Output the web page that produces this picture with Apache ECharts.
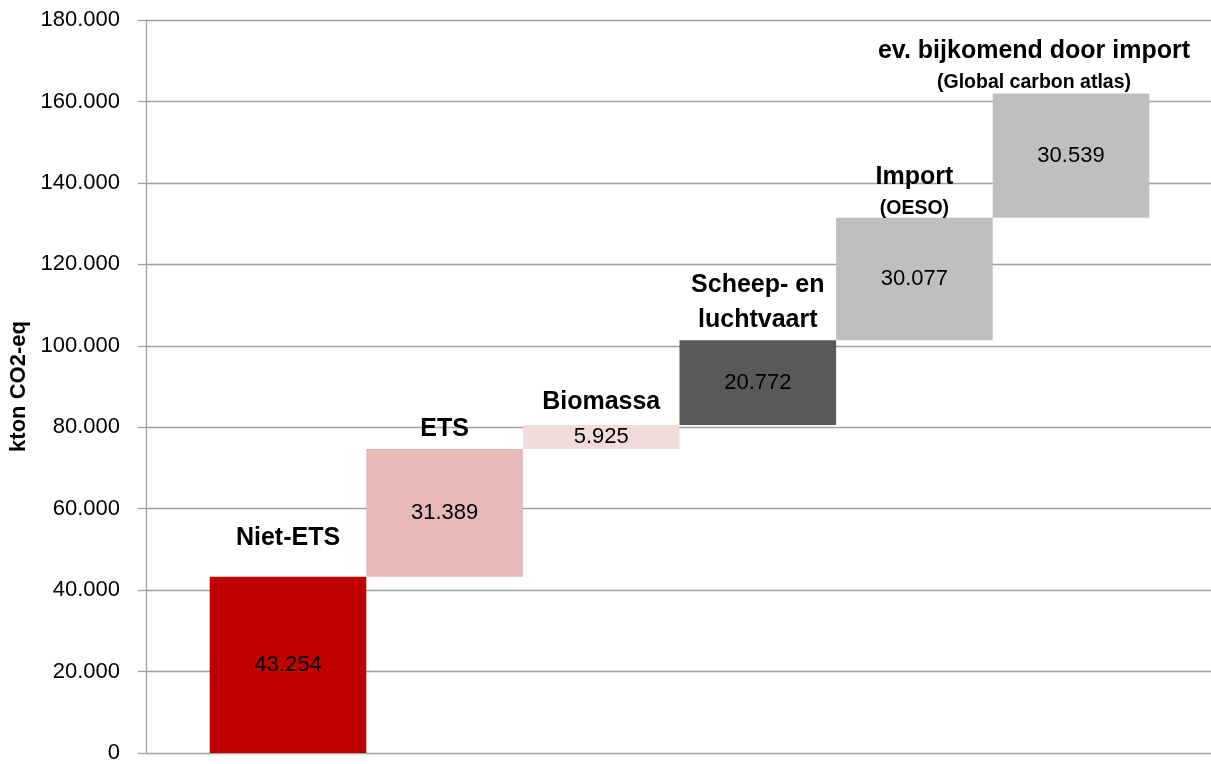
<!DOCTYPE html>
<html>
<head>
<meta charset="utf-8">
<script src="https://cdn.jsdelivr.net/npm/echarts@6/dist/echarts.min.js"></script>
<style>
  html, body { margin: 0; padding: 0; background: #fff; }
  #chart { width: 1211px; height: 764px; }
</style>
</head>
<body>
<div id="chart"></div>
<script>
// data (kton CO2-eq)
const categories = ['Niet-ETS', 'ETS', 'Biomassa', 'Scheep- en\nluchtvaart', 'Import', 'ev. bijkomend door import'];
const subLabels = ['', '', '', '', '(OESO)', '(Global carbon atlas)'];
const values = [43254, 31389, 5925, 20772, 30077, 30539];

// styling per bar
const barColors = ['#c00000', '#e6b9b8', '#f2dcdb', '#595959', '#bfbfbf', '#bfbfbf'];
const labelDist = [21, 2, 5, 3, -5, -3];
const labelShift = [0, 0, 0, 0, 0, -37];

const FONT = '"Liberation Sans", Arial, sans-serif';

function fmt(n) {
    return String(n).replace(/\B(?=(\d{3})+(?!\d))/g, '.');
}

// invisible base for the waterfall
const bases = [];
let run = 0;
values.forEach(v => { bases.push(run); run += v; });

const chart = echarts.init(document.getElementById('chart'));

chart.setOption({
    backgroundColor: '#fff',
    animation: false,
    grid: [
        // grid 0: axis + gridlines
        { left: 146, right: 0, top: 20, bottom: 11, outerBoundsMode: 'none', containLabel: false },
        // grid 1: the bars
        { left: 209.7, right: 61.7, top: 20, bottom: 11, outerBoundsMode: 'none', containLabel: false }
    ],
    xAxis: [
        { gridIndex: 0, type: 'value', show: false, min: 0, max: 1 },
        { gridIndex: 1, type: 'category', data: categories, show: false }
    ],
    yAxis: [
        {
            gridIndex: 0,
            type: 'value',
            min: 0,
            max: 180000,
            interval: 20000,
            name: 'kton CO2-eq',
            nameLocation: 'middle',
            nameRotate: 90,
            nameGap: 114,
            nameTextStyle: { fontFamily: FONT, fontWeight: 'bold', fontSize: 22, color: '#000' },
            axisLine: { show: true, lineStyle: { color: '#a0a0a0', width: 1.3 } },
            axisTick: { show: true, length: 8, lineStyle: { color: '#a0a0a0', width: 1.3 } },
            axisLabel: {
                fontFamily: FONT,
                fontSize: 22,
                color: '#000',
                margin: 26,
                formatter: v => fmt(v)
            },
            splitLine: { show: true, lineStyle: { color: '#a0a0a0', width: 1.3 } }
        },
        { gridIndex: 1, type: 'value', min: 0, max: 180000, show: false }
    ],
    series: [
        {
            name: 'base',
            type: 'bar',
            xAxisIndex: 1,
            yAxisIndex: 1,
            stack: 'wf',
            barCategoryGap: 0,
            itemStyle: { color: 'transparent' },
            data: bases
        },
        {
            name: 'waarde',
            type: 'bar',
            xAxisIndex: 1,
            yAxisIndex: 1,
            stack: 'wf',
            barCategoryGap: 0,
            data: values.map((v, i) => ({ value: v, itemStyle: { color: barColors[i] } })),
            label: {
                show: true,
                position: 'inside',
                fontFamily: FONT,
                fontSize: 22,
                color: '#000',
                formatter: p => fmt(p.value)
            }
        },
        {
            name: 'namen',
            type: 'bar',
            xAxisIndex: 1,
            yAxisIndex: 1,
            stack: 'wf',
            barCategoryGap: 0,
            itemStyle: { color: 'transparent' },
            data: categories.map((c, i) => ({
                value: 0,
                label: { distance: labelDist[i], offset: [labelShift[i], 0] }
            })),
            label: {
                show: true,
                position: 'top',
                formatter: p => {
                    const i = p.dataIndex;
                    const main = categories[i].split('\n').map(s => '{a|' + s + '}').join('\n');
                    return subLabels[i] ? main + '\n{b|' + subLabels[i] + '}' : main;
                },
                rich: {
                    a: { fontFamily: FONT, fontWeight: 'bold', fontSize: 25, color: '#000', lineHeight: 35 },
                    b: { fontFamily: FONT, fontWeight: 'bold', fontSize: 19.5, color: '#000', lineHeight: 28 }
                }
            }
        }
    ]
});
</script>
</body>
</html>
